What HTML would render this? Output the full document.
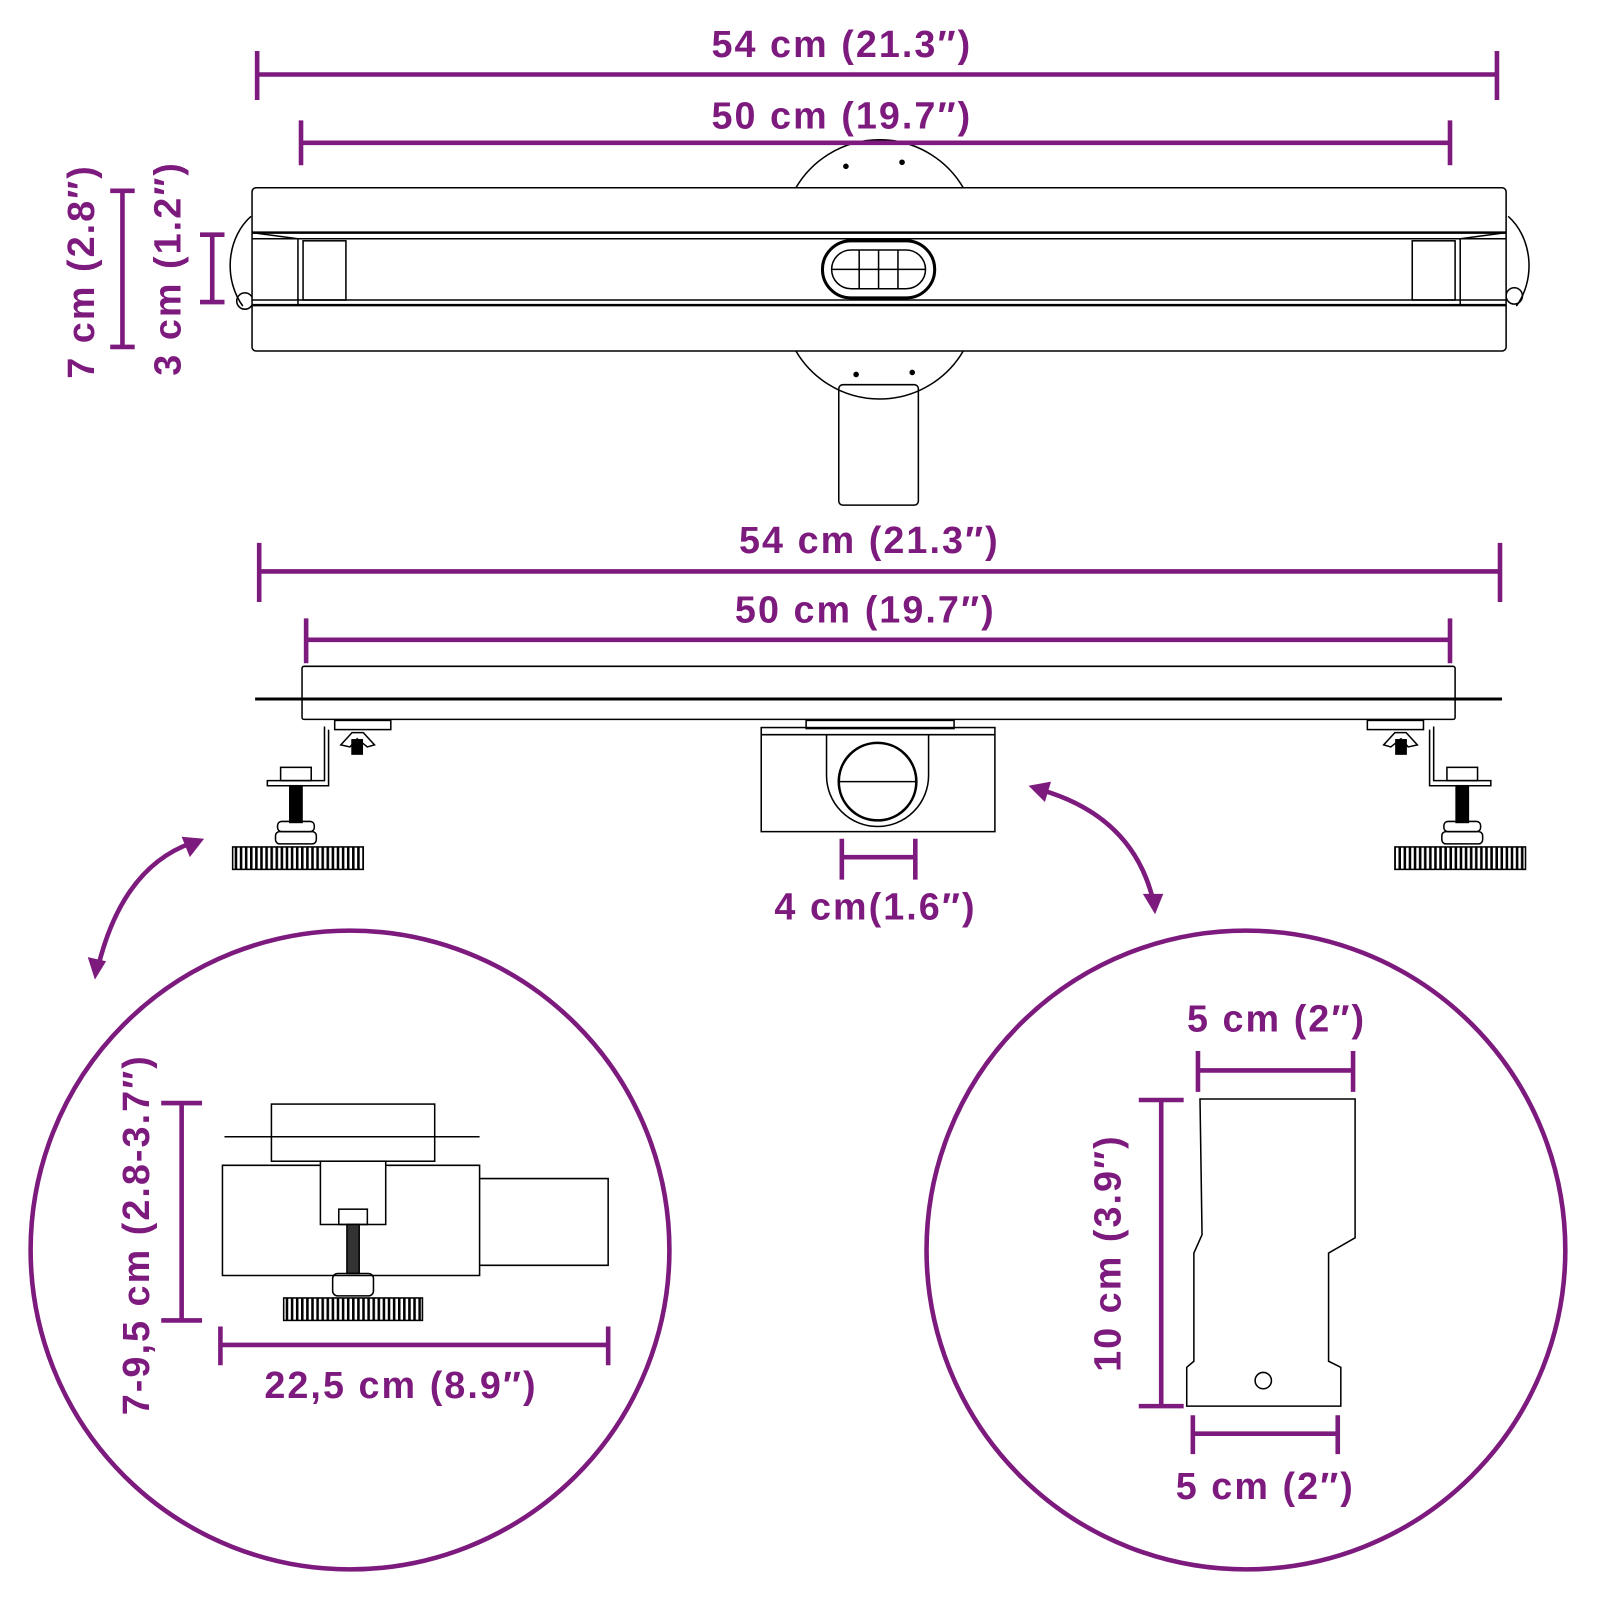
<!DOCTYPE html>
<html><head><style>html,body{margin:0;padding:0;background:#fff}svg{display:block}</style></head><body>
<svg width="1600" height="1600" viewBox="0 0 1568 1568" xmlns="http://www.w3.org/2000/svg" font-family="'Liberation Sans',sans-serif">
<defs>
<pattern id="kn" width="5" height="10" patternUnits="userSpaceOnUse"><rect width="5" height="10" fill="#fff"/><rect width="2.5" height="10" fill="#000"/></pattern>
</defs>
<g fill="none" stroke="#000" stroke-width="1.5">
<!-- top view -->
<path d="M780 184 A95 95 0 0 1 944 184"/>
<path d="M780 344 A95 95 0 0 0 944 344"/>
<circle cx="829" cy="163" r="2" fill="#000"/><circle cx="884" cy="159" r="2" fill="#000"/>
<circle cx="839" cy="367" r="2" fill="#000"/><circle cx="894" cy="365" r="2" fill="#000"/>
<rect x="822" y="377" width="78" height="118" rx="4"/>
<path d="M246 212 A50 60 0 0 0 238 300"/><path d="M1478 212 A50 60 0 0 1 1486 300"/>
<circle cx="240" cy="295" r="8"/><circle cx="1484" cy="290" r="8"/>
<rect x="247" y="184" width="1229" height="160" rx="4" fill="#fff"/>
<line x1="247" y1="228" x2="1476" y2="228" stroke-width="2.5"/><line x1="247" y1="234" x2="1476" y2="234"/>
<line x1="247" y1="294" x2="1476" y2="294"/><line x1="247" y1="299" x2="1476" y2="299" stroke-width="2.5"/>
<rect x="297" y="236" width="42" height="58"/><rect x="1384" y="236" width="42" height="58"/>
<path d="M247 228 L292 234 L292 299 L247 299"/><path d="M1476 228 L1431 234 L1431 299 L1476 299"/>
<rect x="806" y="236" width="110" height="56" rx="28" fill="#fff" stroke-width="3"/>
<rect x="815" y="245" width="92" height="38" rx="19"/>
<path d="M842 245 V283 M861 245 V283 M880 245 V283 M815 264 H907"/>
<!-- side view -->
<rect x="296" y="653" width="1130" height="52" rx="2"/>
<line x1="250" y1="685" x2="1472" y2="685" stroke-width="3"/>
<rect x="746" y="713" width="229" height="102" fill="#fff"/>
<line x1="746" y1="720" x2="975" y2="720"/>
<rect x="790" y="706" width="145" height="8"/>
<path d="M810 720 V760 A50 50 0 0 0 910 760 V720"/>
<circle cx="860" cy="766" r="38" stroke-width="2.5"/>
<line x1="822" y1="766" x2="898" y2="766"/>
<g id="foot">
<rect x="328" y="706" width="55" height="9"/>
<path d="M318 712 V765 H262 V770 H322 V715"/>
<path d="M334 730 L345 718 L356 718 L367 730 L360 732 L350 724 L343 732 Z"/>
<rect x="345" y="725" width="10" height="14" fill="#000"/>
<rect x="275" y="752" width="30" height="13"/>
<rect x="284" y="770" width="12" height="36" fill="#000"/>
<rect x="272" y="805" width="36" height="10" rx="4"/><rect x="270" y="815" width="40" height="12" rx="4"/>
<rect x="228" y="830" width="128" height="22" fill="url(#kn)"/>
</g>
<use href="#foot" transform="translate(1723 0) scale(-1 1)"/>
<!-- left circle detail -->
<rect x="266" y="1082" width="160" height="56"/>
<line x1="220" y1="1114" x2="470" y2="1114"/>
<path d="M218 1142 H470 V1250 H218 Z"/>
<path d="M470 1155 H596 V1240 H470"/>
<rect x="314" y="1138" width="64" height="62" fill="#fff"/>
<rect x="332" y="1185" width="28" height="15"/>
<rect x="340" y="1200" width="12" height="48" fill="#333"/>
<rect x="326" y="1248" width="40" height="22" rx="5"/>
<rect x="278" y="1272" width="136" height="22" fill="url(#kn)"/>
<!-- right circle detail -->
<path d="M1176 1077 H1328 V1213 L1302 1228 V1334 L1314 1340 V1378 H1163 V1340 L1170 1334 V1228 L1178 1210 Z"/>
<circle cx="1238" cy="1353" r="8"/>
</g>
<g stroke="#7d1a7e" stroke-width="4.5" fill="none">
<path d="M252 73 H1467 M252 50 V98 M1467 50 V98"/>
<path d="M295 140 H1421 M295 118 V162 M1421 118 V162"/>
<path d="M108 187 H132 M120 187 V340 M108 340 H132"/>
<path d="M196 230 H220 M208 230 V296 M196 296 H220"/>
<path d="M254 560 H1470 M254 532 V590 M1470 532 V590"/>
<path d="M300 627 H1421 M300 606 V650 M1421 606 V650"/>
<path d="M825 840 H897 M825 822 V862 M897 822 V862"/>
<circle cx="343" cy="1225" r="313"/>
<circle cx="1221" cy="1225" r="313"/>
<path d="M158 1081 H198 M178 1081 V1294 M158 1294 H198"/>
<path d="M216 1318 H596 M216 1300 V1338 M596 1300 V1338"/>
<path d="M1174 1049 H1326 M1174 1030 V1070 M1326 1030 V1070"/>
<path d="M1116 1078 H1160 M1138 1078 V1378 M1116 1378 H1160"/>
<path d="M1169 1405 H1311 M1169 1387 V1425 M1311 1387 V1425"/>
<path d="M188 826 Q120 850 96 948"/>
<path d="M1020 774 Q1110 800 1130 882"/>
</g>
<g fill="#7d1a7e">
<path d="M200 822 L178 820 L186 840 Z"/>
<path d="M93 960 L86 938 L104 942 Z"/>
<path d="M1008 770 L1030 766 L1024 786 Z"/>
<path d="M1132 896 L1120 876 L1140 876 Z"/>
</g>
<g fill="#7d1a7e" font-weight="bold" font-size="37" letter-spacing="2" text-anchor="middle">
<text x="825" y="56">54 cm (21.3″)</text>
<text x="825" y="126">50 cm (19.7″)</text>
<text x="852" y="542">54 cm (21.3″)</text>
<text x="848" y="610">50 cm (19.7″)</text>
<text x="858" y="901">4 cm(1.6″)</text>
<text x="393" y="1370">22,5 cm (8.9″)</text>
<text x="1251" y="1011">5 cm (2″)</text>
<text x="1240" y="1469">5 cm (2″)</text>
<text transform="translate(92 266) rotate(-90)">7 cm (2.8″)</text>
<text transform="translate(177 263) rotate(-90)">3 cm (1.2″)</text>
<text transform="translate(146 1210) rotate(-90)">7-9,5 cm (2.8-3.7″)</text>
<text transform="translate(1098 1228) rotate(-90)">10 cm (3.9″)</text>
</g>
</svg>
</body></html>
